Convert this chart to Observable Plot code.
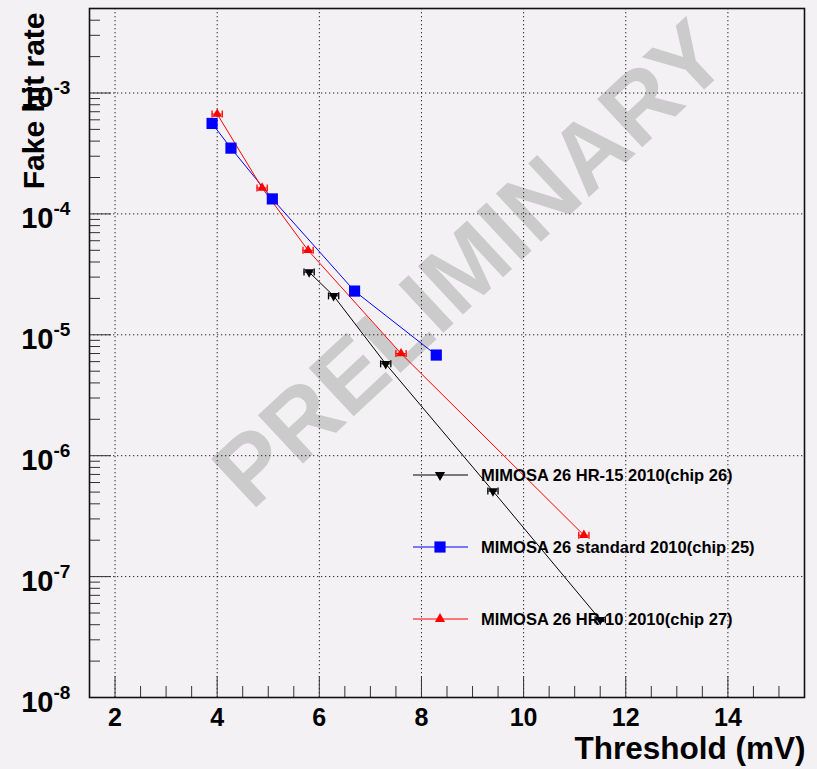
<!DOCTYPE html>
<html><head><meta charset="utf-8">
<script src="https://cdn.jsdelivr.net/npm/d3@7"></script>
<script src="https://cdn.jsdelivr.net/npm/@observablehq/plot@0.6"></script>
<style>body{margin:0;background:#f4f1f4;} svg{display:block}</style>
</head><body><div id="chart"></div>
<script>
// ---- data ----
const seriesNames = ["MIMOSA 26 HR-15 2010(chip 26)", "MIMOSA 26 standard 2010(chip 25)", "MIMOSA 26 HR-10 2010(chip 27)"];
const seriesColors = ["#000000", "#0000ff", "#ff0000"];
const hr15Threshold = [5.8, 6.28, 7.3, 9.4, 11.5];
const hr15Rate = [3.3e-5, 2.1e-5, 5.75e-6, 5.1e-7, 4.4e-8];
const stdThreshold = [3.9, 4.27, 5.08, 6.69, 8.29];
const stdRate = [5.6e-4, 3.5e-4, 1.33e-4, 2.3e-5, 6.8e-6];
const hr10Threshold = [4.0, 4.88, 5.78, 7.6, 11.18];
const hr10Rate = [6.7e-4, 1.64e-4, 5.0e-5, 7.0e-6, 2.2e-7];
const thresholdError = 0.1;
const xMajorTicks = [2, 4, 6, 8, 10, 12, 14];
const xMinorTicks = d3.range(2.5, 15.01, 0.5).filter(v => v % 2 !== 0);
const yDecades = [1e-8, 1e-7, 1e-6, 1e-5, 1e-4, 1e-3];
const yExponents = ["-8", "-7", "-6", "-5", "-4", "-3"];
const yMinorTicks = [];
for (let e = -8; e <= -3; e++) for (let m = 2; m <= 9; m++) { const v = m * Math.pow(10, e); if (v < 5e-3) yMinorTicks.push(v); }

const toRows = (xs, ys) => xs.map((x, i) => ({x, y: ys[i]}));
const hr15 = toRows(hr15Threshold, hr15Rate);
const std = toRows(stdThreshold, stdRate);
const hr10 = toRows(hr10Threshold, hr10Rate);

const font = "'Liberation Sans', Arial, Helvetica, sans-serif";
const cap = {draw(ctx, size) { const r = Math.sqrt(size / Math.PI); ctx.moveTo(0, -r); ctx.lineTo(0, r); }};

function errorMarks(rows, color) {
  return [
    Plot.ruleY(rows, {y: "y", x1: d => d.x - thresholdError, x2: d => d.x + thresholdError, stroke: color, strokeWidth: 1}),
    Plot.dot(rows, {x: d => d.x - thresholdError, y: "y", symbol: cap, r: 3.5, stroke: color, strokeWidth: 1.3}),
    Plot.dot(rows, {x: d => d.x + thresholdError, y: "y", symbol: cap, r: 3.5, stroke: color, strokeWidth: 1.3})
  ];
}

const plot = Plot.plot({
  width: 817, height: 769,
  marginLeft: 89, marginRight: 13, marginTop: 8, marginBottom: 72,
  style: {background: "#f4f1f4", fontFamily: font, overflow: "visible"},
  x: {domain: [1.5, 15.5], label: null},
  y: {type: "log", domain: [1e-8, 5e-3], label: null},
  marks: [
    Plot.text(["PRELIMINARY"], {frameAnchor: "middle", dx: 24, dy: -88, rotate: -43, fontSize: 96, fontWeight: "bold", fill: "#cbcbcb"}),
    Plot.gridX(xMajorTicks, {stroke: "#000", strokeOpacity: 0.85, strokeDasharray: "1.3,2.7"}),
    Plot.gridY(yDecades, {stroke: "#000", strokeOpacity: 0.85, strokeDasharray: "1.3,2.7"}),
    Plot.axisX(xMinorTicks, {tickSize: -11, tickFormat: () => "", stroke: "#333"}),
    Plot.axisX(xMajorTicks, {tickSize: -21, tickFormat: () => "", stroke: "#333"}),
    Plot.axisY(yMinorTicks, {tickSize: -11, tickFormat: () => "", stroke: "#333"}),
    Plot.axisY(yDecades, {tickSize: -22, tickFormat: () => "", stroke: "#333"}),
    Plot.text(xMajorTicks, {x: d => d, text: d => String(d), frameAnchor: "bottom", lineAnchor: "top", dy: 11, fontSize: 25, fontWeight: "bold", fill: "#000"}),
    Plot.text(yDecades, {y: d => d, text: () => "10", frameAnchor: "left", textAnchor: "end", lineAnchor: "middle", dx: -36, dy: 5, fontSize: 29, fontWeight: "bold", fill: "#000"}),
    Plot.text(yDecades, {y: d => d, text: yExponents, frameAnchor: "left", textAnchor: "start", lineAnchor: "middle", dx: -36, dy: -5, fontSize: 19, fontWeight: "bold", fill: "#000"}),
    Plot.text(["Threshold (mV)"], {frameAnchor: "bottom-right", textAnchor: "end", lineAnchor: "bottom", dx: 1, dy: 61, fontSize: 31.5, fontWeight: "bold", fill: "#000"}),
    Plot.text(["Fake hit rate"], {frameAnchor: "top-left", rotate: -90, textAnchor: "end", lineAnchor: "bottom", dx: -46, dy: 4, fontSize: 30, fontWeight: "bold", fill: "#000"}),
    Plot.line(hr15, {x: "x", y: "y", stroke: seriesColors[0], strokeWidth: 1}),
    Plot.line(std, {x: "x", y: "y", stroke: seriesColors[1], strokeWidth: 1}),
    Plot.line(hr10, {x: "x", y: "y", stroke: seriesColors[2], strokeWidth: 1}),
    ...errorMarks(hr15, seriesColors[0]),
    ...errorMarks(hr10, seriesColors[2]),
    Plot.dot(hr15, {x: "x", y: "y", symbol: "triangle", rotate: 180, r: 3.6, fill: seriesColors[0], stroke: "none"}),
    Plot.dot(std, {x: "x", y: "y", symbol: "square", r: 6.3, fill: seriesColors[1], stroke: "none"}),
    Plot.dot(hr10, {x: "x", y: "y", symbol: "triangle", r: 3.6, fill: seriesColors[2], stroke: "none"}),
    Plot.frame({stroke: "#111", strokeWidth: 1.6})
  ]
});

// legend (layout only, inside the frame like the ROOT TLegend)
const svg = d3.select(plot);
const leg = svg.append("g");
const legendSymbols = [d3.symbolTriangle, d3.symbolSquare, d3.symbolTriangle];
const legendSizes = [45, 125, 45];
seriesNames.forEach((name, i) => {
  const y = 475 + i * 72;
  leg.append("path").attr("d", `M413,${y}H468`).style("stroke", seriesColors[i]).style("stroke-width", "1.2px").style("fill", "none");
  leg.append("path").attr("d", d3.symbol(legendSymbols[i], legendSizes[i])()).attr("transform", `translate(440,${y})` + (i === 0 ? " rotate(180)" : "")).style("fill", seriesColors[i]).style("stroke", "none");
  leg.append("text").attr("x", 481).attr("y", y + 6)
    .style("font-family", font).style("font-weight", "bold").style("font-size", "16.5px")
    .style("text-anchor", "start").style("fill", "#000").text(name);
});

document.getElementById("chart").append(plot);
</script>
</body></html>
